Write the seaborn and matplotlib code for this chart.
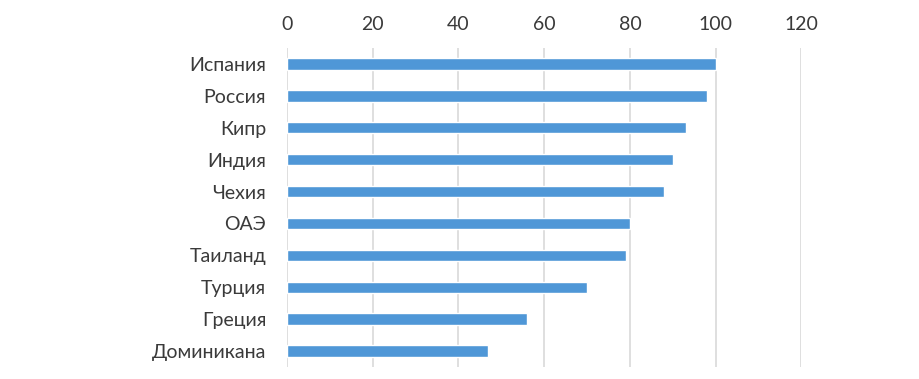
import seaborn as sns
import matplotlib.pyplot as plt
import pandas as pd

countries = ['Испания', 'Россия', 'Кипр', 'Индия', 'Чехия',
             'ОАЭ', 'Таиланд', 'Турция', 'Греция', 'Доминикана']
values = [100, 98, 93, 90, 88, 80, 79, 70, 56, 47]
x_ticks = [0, 20, 40, 60, 80, 100, 120]

df = pd.DataFrame({'country': countries, 'value': values})

sns.set_style('white')
plt.rcParams['font.family'] = ['Lato', 'DejaVu Sans']

fig = plt.figure(figsize=(9.2, 3.79), dpi=100)
ax = fig.add_axes([0.312, 0.032, 0.559, 0.841])

sns.barplot(data=df, x='value', y='country', orient='h', color='#4F97D7',
            width=0.35, saturation=1, ax=ax, zorder=3)

ax.set_xlim(0, 120)
ax.set_ylim(9.5, -0.5)
ax.set_xticks(x_ticks)
ax.xaxis.tick_top()
ax.grid(axis='x', color='#D9D9D9', linewidth=1.2, zorder=0)
ax.set_xlabel('')
ax.set_ylabel('')
for s in ax.spines.values():
    s.set_visible(False)
ax.tick_params(axis='both', length=0, labelsize=14, labelcolor='#3A3A3A')
ax.tick_params(axis='x', pad=11)
ax.tick_params(axis='y', pad=15)

fig.savefig('out.png', dpi=100)
